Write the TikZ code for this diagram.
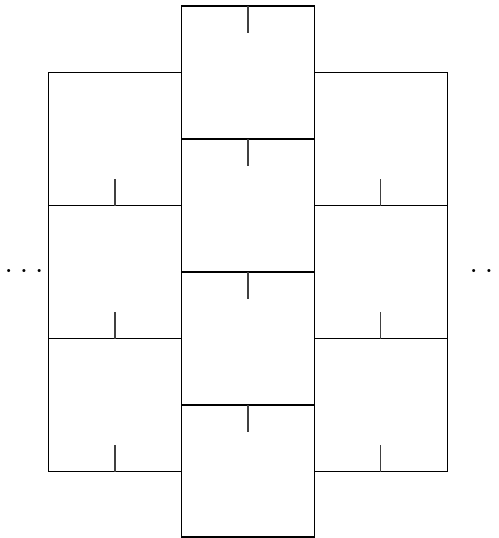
\documentclass[tikz,border=0pt]{standalone}
\begin{document}
\begin{tikzpicture}[x=0.232pt,y=-0.232pt,
  cell/.style={draw=black,line width=0.3pt},
  tick/.style={draw=black!75,line width=0.3pt},
  dots/.style={inner sep=0pt,anchor=base,font=\fontsize{6.25}{7}\selectfont}]
\useasboundingbox (0,0) rectangle (499,538);
% middle column
\draw[cell] (181.5,6) rectangle (314.5,538-1);
\foreach \t in {139,272,405}{
  \draw[cell] (181.5,\t) -- (314.5,\t);
}
\foreach \t in {6,139,272,405}{
  \draw[tick] (248,\t) -- (248,\t+26.5);
}
% side columns
\draw[cell] (48.5,72.5) rectangle (181.5,471.5);
\draw[cell] (314.5,72.5) rectangle (447.5,471.5);
\foreach \t in {72.5,205.5,338.5}{
  \draw[cell] (48.5,\t+133) -- (181.5,\t+133);
  \draw[tick] (115,\t+133) -- (115,\t+106.5);
  \draw[cell] (314.5,\t+133) -- (447.5,\t+133);
  \draw[tick] (380.5,\t+133) -- (380.5,\t+106.5);
}
\node[dots] (ldots) at (24,277) {$\cdots$};
\node[dots] (rdots) at (489,277) {$\cdots$};
\end{tikzpicture}
\end{document}
